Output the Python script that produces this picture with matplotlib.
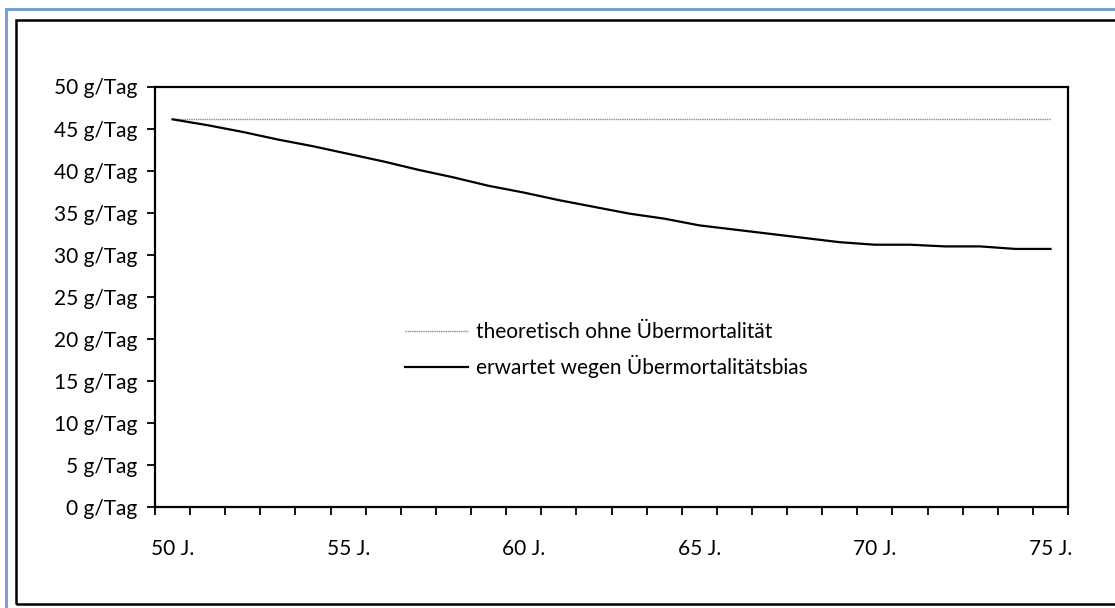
import matplotlib.pyplot as plt
from matplotlib.patches import Rectangle

plt.rcParams['font.family'] = ['Lato', 'DejaVu Sans']

# data
ages = list(range(50, 76))
theoretisch = [46.1] * 26
erwartet = [46.1, 45.4, 44.6, 43.7, 42.9, 42.0, 41.1, 40.1, 39.2, 38.2,
            37.4, 36.5, 35.7, 34.9, 34.3, 33.5, 33.0, 32.5, 32.0, 31.5,
            31.2, 31.2, 31.0, 31.0, 30.7, 30.7]
yticks = [0, 5, 10, 15, 20, 25, 30, 35, 40, 45, 50]
label_ages = [50, 55, 60, 65, 70, 75]

W, H = 1115, 608
fig = plt.figure(figsize=(W / 100, H / 100), dpi=100)

# outer frames (blue + black), cut off at right/bottom like the screenshot
fig.patches.append(Rectangle((6 / W, -0.1), 2, 1 - 9 / H + 0.1, transform=fig.transFigure,
                             fill=False, edgecolor='#6f9ad6', linewidth=2))
fig.patches.append(Rectangle((16 / W, 1 - 604 / H), 2, (604 - 20) / H, transform=fig.transFigure,
                             fill=False, edgecolor='black', linewidth=1.8))

ax = fig.add_axes([155 / W, 1 - 507.3 / H, (1068 - 155) / W, (507.3 - 86.5) / H])

x = list(range(len(ages)))
ax.plot(x, theoretisch, color='#8c8c8c', linestyle=(0, (1, 0.6)), linewidth=1.0,
        label='theoretisch ohne Übermortalität')
ax.plot(x, erwartet, color='black', linewidth=1.6,
        label='erwartet wegen Übermortalitätsbias')

ax.set_xlim(-0.5, len(ages) - 0.5)
ax.set_ylim(0, 50)

# ticks at category borders, labels at category centres
ax.set_xticks([i - 0.5 for i in range(len(ages) + 1)])
ax.set_xticklabels([])
ax.set_xticks([ages.index(a) for a in label_ages], minor=True)
ax.set_xticklabels([f'{a} J.' for a in label_ages], minor=True)
ax.tick_params(axis='x', which='major', direction='out', length=6, width=1.3)
ax.tick_params(axis='x', which='minor', length=0, pad=23, labelsize=15)

ax.set_yticks(yticks)
ax.set_yticklabels([f'{v} g/Tag' for v in yticks])
ax.tick_params(axis='y', direction='out', length=6, width=1.3, pad=7, labelsize=15)

for s in ax.spines.values():
    s.set_linewidth(1.6)

ax.legend(loc='center left', bbox_to_anchor=(405 / W, 1 - 350 / H), bbox_transform=fig.transFigure,
          frameon=False, fontsize=15, handlelength=3.0, handletextpad=0.4,
          labelspacing=0.6, borderpad=0, borderaxespad=0)

fig.savefig('out.png', dpi=100)
